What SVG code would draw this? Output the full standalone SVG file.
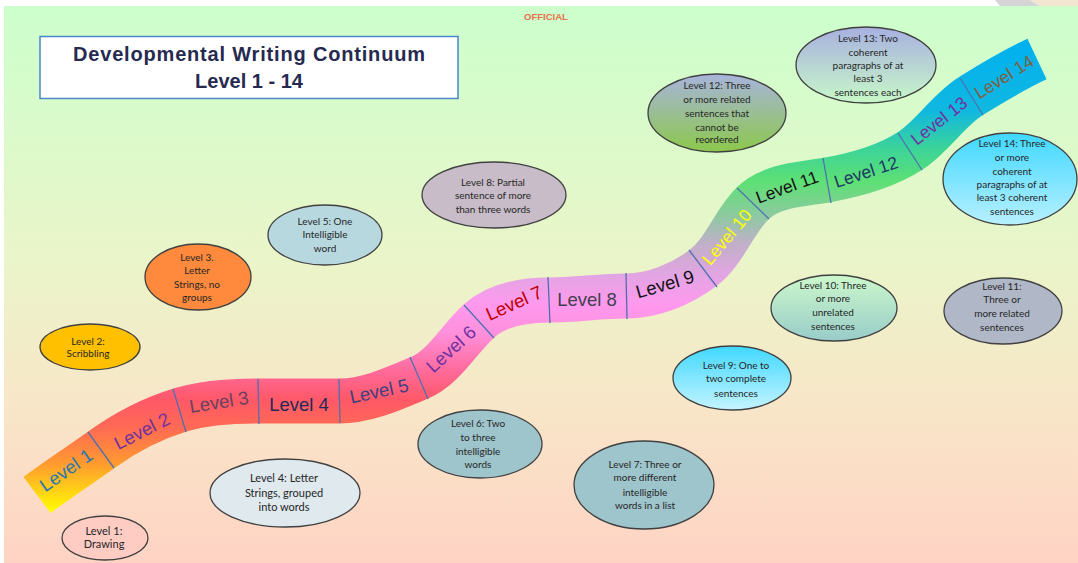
<svg xmlns="http://www.w3.org/2000/svg" width="1078" height="563" viewBox="0 0 1078 563">
<defs>
<linearGradient id="bg" x1="0" y1="0" x2="0" y2="1">
<stop offset="0" stop-color="#ccffcc"/>
<stop offset="0.45" stop-color="#eaf5c9"/>
<stop offset="0.72" stop-color="#f8e6c8"/>
<stop offset="1" stop-color="#ffd3c4"/>
</linearGradient>
<linearGradient id="roadg" gradientUnits="userSpaceOnUse" x1="0" y1="40" x2="0" y2="513">
<stop offset="0" stop-color="#00b0f0"/>
<stop offset="0.15" stop-color="#10b8e0"/>
<stop offset="0.23" stop-color="#3cd498"/>
<stop offset="0.30" stop-color="#5ee074"/>
<stop offset="0.37" stop-color="#8ccaa0"/>
<stop offset="0.43" stop-color="#c0b0c8"/>
<stop offset="0.50" stop-color="#e4a4e4"/>
<stop offset="0.56" stop-color="#ff99ee"/>
<stop offset="0.62" stop-color="#ff90dc"/>
<stop offset="0.70" stop-color="#ff6a9a"/>
<stop offset="0.76" stop-color="#ff5868"/>
<stop offset="0.82" stop-color="#ff6a54"/>
<stop offset="0.895" stop-color="#ff9a30"/>
<stop offset="1" stop-color="#ffff00"/>
</linearGradient>
<linearGradient id="g9" x1="0" y1="0" x2="0" y2="1"><stop offset="0" stop-color="#40d8ff"/><stop offset="1" stop-color="#c4f4ff"/></linearGradient>
<linearGradient id="g10" x1="0" y1="0" x2="0" y2="1"><stop offset="0" stop-color="#ccf8cc"/><stop offset="1" stop-color="#98ccc8"/></linearGradient>
<linearGradient id="g12" x1="0" y1="0" x2="0" y2="1"><stop offset="0" stop-color="#a8b4dc"/><stop offset="1" stop-color="#8cc84c"/></linearGradient>
<linearGradient id="g13" x1="0" y1="0" x2="0" y2="1"><stop offset="0" stop-color="#a8b0e0"/><stop offset="1" stop-color="#c8f8c8"/></linearGradient>
<linearGradient id="g14" x1="0" y1="0" x2="0" y2="1"><stop offset="0" stop-color="#40d8ff"/><stop offset="1" stop-color="#b8f0ff"/></linearGradient>
</defs>
<style>
.bub{stroke:#404040;stroke-width:1.3}
.bt{font-family:Lato,"Open Sans",sans-serif;font-size:10px;fill:#262626;text-anchor:middle}
.bt2{font-family:Lato,"Open Sans",sans-serif;font-size:11px;fill:#262626;text-anchor:middle}
.lv{font-family:"Liberation Sans",Arial,sans-serif;font-size:18.5px;text-anchor:middle}
.lv2{font-family:"Liberation Sans",Arial,sans-serif;font-size:17.5px;text-anchor:middle}
.div{stroke:#4f70b0;stroke-width:1.3;fill:none}
</style>
<rect x="0" y="0" width="1078" height="563" fill="#ffffff"/>
<rect x="4" y="6" width="1074" height="557" fill="url(#bg)"/>
<polygon points="995,0 1030,0 1040,6 1000,6" fill="#d4d4d4"/>
<polygon points="1030,0 1078,0 1078,6 1040,6" fill="#f2e6d0"/>
<text x="546" y="20" font-family="Liberation Sans,Arial,sans-serif" font-size="9.5" font-weight="bold" fill="#e8704a" text-anchor="middle">OFFICIAL</text>
<g id="title">
<rect x="40" y="36.5" width="418" height="62" fill="#ffffff" stroke="#4a86c8" stroke-width="1.5"/>
<text x="249" y="61" font-family="Liberation Sans,Arial,sans-serif" font-size="20" font-weight="bold" fill="#262a50" text-anchor="middle" textLength="352" lengthAdjust="spacing">Developmental Writing Continuum</text>
<text x="249" y="88" font-family="Liberation Sans,Arial,sans-serif" font-size="20" font-weight="bold" fill="#262a50" text-anchor="middle">Level 1 - 14</text>
</g>
<g id="connectors">
<path id="road" d="M37,495 C57.9,479.3 79.9,465.3 101,450 C124.9,432.7 151.8,418.6 180,410 C205,402.4 231.8,401 258,401 C285,401 312,401 339,401 C366.7,401 393.5,388.8 419,378 C444.4,367.2 458.5,339.5 479,321 C497.1,304.7 524.6,300 549,300 C574.7,300 600.3,296 626,296 C653.3,296 681.2,284.4 703,268 C724.8,251.6 733.4,222 753,203 C771.6,185.1 801.6,184.5 827,180 C855.9,174.9 885.4,167 910,151 C933,136.1 947.8,110.5 971,96 C992.4,82.6 1014.2,69.7 1037,59" fill="none" stroke="url(#roadg)" stroke-width="45"/>
<line class="div" x1="88" y1="432" x2="114" y2="468"/>
<line class="div" x1="173" y1="389" x2="186" y2="432"/>
<line class="div" x1="258" y1="379" x2="259" y2="424"/>
<line class="div" x1="339" y1="379" x2="340" y2="423"/>
<line class="div" x1="410" y1="357" x2="428" y2="399"/>
<line class="div" x1="464" y1="305" x2="494" y2="338"/>
<line class="div" x1="548" y1="277" x2="550" y2="323"/>
<line class="div" x1="626" y1="273" x2="627" y2="319"/>
<line class="div" x1="689" y1="250" x2="717" y2="287"/>
<line class="div" x1="737" y1="188" x2="769" y2="219"/>
<line class="div" x1="823" y1="158" x2="831" y2="203"/>
<line class="div" x1="898" y1="133" x2="922" y2="170"/>
<line class="div" x1="960" y1="78" x2="983" y2="115"/>
</g>
<g id="road-labels">
<text class="lv" fill="#2878b0" transform="translate(66,470) rotate(-35)" y="6.5">Level 1</text>
<text class="lv" fill="#7030a0" transform="translate(142,431) rotate(-27)" y="6.5">Level 2</text>
<text class="lv" fill="#6a4060" transform="translate(219,402) rotate(-9)" y="6.5">Level 3</text>
<text class="lv" fill="#1f2a5a" transform="translate(299,404)" y="6.5">Level 4</text>
<text class="lv" fill="#404080" transform="translate(379,391) rotate(-12)" y="6.5">Level 5</text>
<text class="lv" fill="#7030a0" transform="translate(451,349) rotate(-42)" y="6.5">Level 6</text>
<text class="lv" fill="#c00000" transform="translate(514,303) rotate(-24)" y="6.5">Level 7</text>
<text class="lv" fill="#404050" transform="translate(587,299)" y="6.5">Level 8</text>
<text class="lv" fill="#111111" transform="translate(665,284) rotate(-16)" y="6.5">Level 9</text>
<text class="lv2" fill="#ffff00" transform="translate(727,237) rotate(-50)" y="6">Level 10</text>
<text class="lv2" fill="#111111" transform="translate(787,187) rotate(-20)" y="6">Level 11</text>
<text class="lv2" fill="#1f3864" transform="translate(866,172) rotate(-18)" y="6">Level 12</text>
<text class="lv2" fill="#7030a0" transform="translate(939,121) rotate(-38)" y="6">Level 13</text>
<text class="lv2" fill="#806040" transform="translate(1004,77) rotate(-32)" y="6">Level 14</text>
</g>
<g id="n1"><ellipse class="bub" cx="105" cy="538" rx="43" ry="22" fill="#ffccc4"/>
<text class="bt2" x="104"><tspan x="104" y="535">Level 1:</tspan><tspan x="104" y="548">Drawing</tspan></text></g>
<g id="n2"><ellipse class="bub" cx="90" cy="347" rx="50" ry="23" fill="#ffc000"/>
<text class="bt"><tspan x="88" y="344.5">Level 2:</tspan><tspan x="88" y="357">Scribbling</tspan></text></g>
<g id="n3"><ellipse class="bub" cx="198" cy="277" rx="53" ry="33" fill="#ff8a3d"/>
<text class="bt"><tspan x="197" y="260.5">Level 3.</tspan><tspan x="197" y="273.5">Letter</tspan><tspan x="197" y="287.5">Strings, no</tspan><tspan x="197" y="300.5">groups</tspan></text></g>
<g id="n4"><ellipse class="bub" cx="285" cy="493" rx="75" ry="34" fill="#dfe9ee"/>
<text class="bt2"><tspan x="284" y="482">Level 4: Letter</tspan><tspan x="284" y="497">Strings, grouped</tspan><tspan x="284" y="511">into words</tspan></text></g>
<g id="n5"><ellipse class="bub" cx="325" cy="235" rx="57" ry="30" fill="#b8d8e0"/>
<text class="bt"><tspan x="325" y="224.5">Level 5: One</tspan><tspan x="325" y="237.5">Intelligible</tspan><tspan x="325" y="251.5">word</tspan></text></g>
<g id="n6"><ellipse class="bub" cx="480" cy="444" rx="62" ry="34" fill="#9ec4cc"/>
<text class="bt"><tspan x="478" y="426.5">Level 6: Two</tspan><tspan x="478" y="440.5">to three</tspan><tspan x="478" y="454.5">intelligible</tspan><tspan x="478" y="467.5">words</tspan></text></g>
<g id="n7"><ellipse class="bub" cx="644" cy="485" rx="70" ry="44" fill="#9ec4cc"/>
<text class="bt"><tspan x="645" y="467.5">Level 7: Three or</tspan><tspan x="645" y="480.5">more different</tspan><tspan x="645" y="495.5">intelligible</tspan><tspan x="645" y="508.5">words in a list</tspan></text></g>
<g id="n8"><ellipse class="bub" cx="494" cy="195" rx="72" ry="33" fill="#c8bcc8"/>
<text class="bt"><tspan x="493" y="185.5">Level 8: Partial</tspan><tspan x="493" y="198.5">sentence of more</tspan><tspan x="493" y="212.5">than three words</tspan></text></g>
<g id="n9"><ellipse class="bub" cx="732" cy="378" rx="59" ry="32" fill="url(#g9)"/>
<text class="bt"><tspan x="736" y="368.5">Level 9: One to</tspan><tspan x="736" y="381.5">two complete</tspan><tspan x="736" y="396.5">sentences</tspan></text></g>
<g id="n10"><ellipse class="bub" cx="834" cy="308" rx="63" ry="33" fill="url(#g10)"/>
<text class="bt"><tspan x="833" y="288.5">Level 10: Three</tspan><tspan x="833" y="301.5">or more</tspan><tspan x="833" y="315.5">unrelated</tspan><tspan x="833" y="329.5">sentences</tspan></text></g>
<g id="n11"><ellipse class="bub" cx="1003" cy="311" rx="59" ry="33" fill="#b0b8c8"/>
<text class="bt"><tspan x="1002" y="289.5">Level 11:</tspan><tspan x="1002" y="302.5">Three or</tspan><tspan x="1002" y="316.5">more related</tspan><tspan x="1002" y="330.5">sentences</tspan></text></g>
<g id="n12"><ellipse class="bub" cx="717" cy="113" rx="69" ry="39" fill="url(#g12)"/>
<text class="bt"><tspan x="717" y="88.5">Level 12: Three</tspan><tspan x="717" y="102.5">or more related</tspan><tspan x="717" y="116.5">sentences that</tspan><tspan x="717" y="130.5">cannot be</tspan><tspan x="717" y="142.5">reordered</tspan></text></g>
<g id="n13"><ellipse class="bub" cx="866" cy="65" rx="70" ry="38" fill="url(#g13)"/>
<text class="bt"><tspan x="868" y="41.5">Level 13: Two</tspan><tspan x="868" y="55.5">coherent</tspan><tspan x="868" y="68.5">paragraphs of at</tspan><tspan x="868" y="81.5">least 3</tspan><tspan x="868" y="95.5">sentences each</tspan></text></g>
<g id="n14"><ellipse class="bub" cx="1010" cy="179" rx="67" ry="46" fill="url(#g14)"/>
<text class="bt"><tspan x="1012" y="146.5">Level 14: Three</tspan><tspan x="1012" y="160.5">or more</tspan><tspan x="1012" y="174.5">coherent</tspan><tspan x="1012" y="187.5">paragraphs of at</tspan><tspan x="1012" y="200.5">least 3 coherent</tspan><tspan x="1012" y="214.5">sentences</tspan></text></g>
</svg>
